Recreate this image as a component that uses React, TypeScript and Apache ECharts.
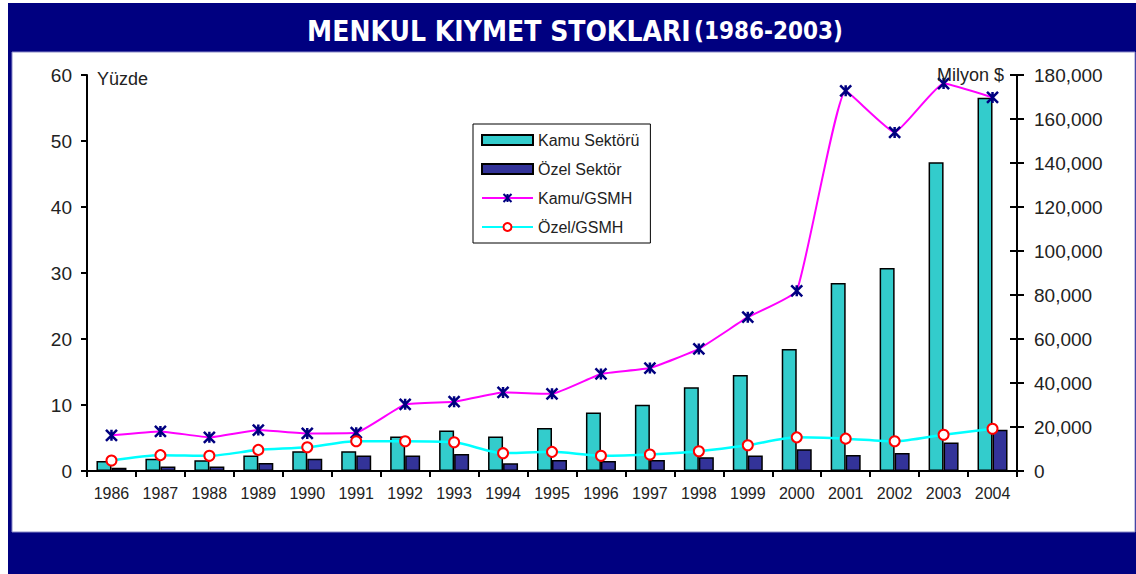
import React, { useEffect, useRef } from "react";
import * as echarts from "echarts";

const years = ["1986","1987","1988","1989","1990","1991","1992","1993","1994","1995","1996","1997","1998","1999","2000","2001","2002","2003","2004"];
// Milyon $
const kamuSektoru = [4500, 5600, 4900, 7000, 9000, 9000, 15700, 18400, 15700, 19600, 26600, 30100, 38100, 43600, 55500, 85500, 92300, 140300, 169700];
const ozelSektor = [1500, 2100, 2000, 3600, 5600, 7000, 7000, 7700, 3500, 5000, 4500, 5000, 6300, 7000, 9900, 7300, 8200, 12900, 18800];
// Yüzde
const kamuGsmh = [5.4, 6.0, 5.1, 6.2, 5.7, 5.8, 10.1, 10.5, 11.9, 11.7, 14.7, 15.6, 18.5, 23.3, 27.3, 57.6, 51.3, 58.7, 56.6];
const ozelGsmh = [1.6, 2.4, 2.3, 3.2, 3.6, 4.5, 4.5, 4.35, 2.7, 2.9, 2.3, 2.5, 3.0, 3.9, 5.1, 4.9, 4.5, 5.5, 6.4];

const seriesNames = ["Kamu Sektörü", "Özel Sektör", "Kamu/GSMH", "Özel/GSMH"];
const titleMain = "MENKUL KIYMET STOKLARI";
const titleYears = "(1986-2003)";
const leftAxisName = "Yüzde";
const rightAxisName = "Milyon $";

const FONT = "'Liberation Sans', Arial, sans-serif";
const NAVY = "#000080";
const TXT = "#222";

export default function App() {
  const ref = useRef<HTMLDivElement>(null);
  useEffect(() => {
    if (!ref.current) return;
    const chart = echarts.init(ref.current, undefined, { renderer: "svg" });
    const fmt = (v: number) => String(v).replace(/\B(?=(\d{3})+(?!\d))/g, ",");
    chart.setOption({
      animation: false,
      backgroundColor: "#fff",
      textStyle: { fontFamily: FONT },
      grid: { left: 87, right: 119, top: 75, bottom: 103, containLabel: false },
      graphic: [
        { type: "rect", z: -10, shape: { x: 8, y: 3, width: 1128, height: 571 }, style: { fill: NAVY } },
        { type: "rect", z: -9, shape: { x: 12, y: 52, width: 1123, height: 480 }, style: { fill: "#fff", stroke: "#8a8ac8", lineWidth: 1 } },
        {
          type: "text", z: 100, x: 575, y: 31,
          style: {
            text: `{a|${titleMain}} {b|${titleYears}}`,
            align: "center", verticalAlign: "middle",
            rich: {
              a: { fontFamily: "'DejaVu Sans Condensed', sans-serif", fontWeight: "bold", fontSize: 28, fill: "#fff" },
              b: { fontFamily: "'DejaVu Sans Condensed', sans-serif", fontWeight: "bold", fontSize: 24, fill: "#fff" },
            },
          },
        },
        { type: "text", z: 100, x: 97, y: 79, style: { text: leftAxisName, fontFamily: FONT, fontSize: 18, fill: TXT, verticalAlign: "middle" } },
        { type: "text", z: 100, x: 1004, y: 75, style: { text: rightAxisName, fontFamily: FONT, fontSize: 18, fill: TXT, align: "right", verticalAlign: "middle" } },
      ],
      legend: {
        orient: "vertical",
        left: 473, top: 124,
        padding: [8, 11, 8, 8],
        itemGap: 13,
        itemWidth: 51, itemHeight: 10,
        borderColor: "#000", borderWidth: 1,
        backgroundColor: "#fff",
        textStyle: { fontFamily: FONT, fontSize: 16, color: TXT },
        data: [
          { name: seriesNames[0], icon: "rect" },
          { name: seriesNames[1], icon: "rect" },
          { name: seriesNames[2] },
          { name: seriesNames[3] },
        ],
      },
      xAxis: {
        type: "category",
        data: years,
        boundaryGap: true,
        axisLine: { lineStyle: { color: "#000", width: 2 } },
        axisTick: { show: true, length: 6, lineStyle: { color: "#000", width: 2 } },
        axisLabel: { color: TXT, fontSize: 16, fontFamily: FONT, margin: 14 },
      },
      yAxis: [
        {
          type: "value", min: 0, max: 60, interval: 10, position: "left",
          axisLine: { show: true, lineStyle: { color: "#000", width: 2 } },
          axisTick: { show: true, length: 6, lineStyle: { color: "#000", width: 2 } },
          axisLabel: { color: TXT, fontSize: 19, fontFamily: FONT, margin: 15 },
          splitLine: { show: false },
        },
        {
          type: "value", min: 0, max: 180000, interval: 20000, position: "right",
          axisLine: { show: true, lineStyle: { color: "#000", width: 2 } },
          axisTick: { show: true, length: 7, lineStyle: { color: "#000", width: 2 } },
          axisLabel: { color: TXT, fontSize: 19, fontFamily: FONT, margin: 17, formatter: fmt },
          splitLine: { show: false },
        },
        {
          type: "value", min: 0, max: 180000, interval: 20000, position: "right",
          axisLine: { show: false },
          axisTick: { show: true, inside: true, length: 7, lineStyle: { color: "#000", width: 2 } },
          axisLabel: { show: false },
          splitLine: { show: false },
        },
      ],
      series: [
        {
          name: seriesNames[0], type: "bar", yAxisIndex: 1, data: kamuSektoru,
          barWidth: 15, barGap: "0%",
          itemStyle: { color: "#33CCCC", borderColor: "#000", borderWidth: 1.5 },
        },
        {
          name: seriesNames[1], type: "bar", yAxisIndex: 1, data: ozelSektor,
          barWidth: 15, barGap: "0%",
          itemStyle: { color: "#333399", borderColor: "#000", borderWidth: 1.5 },
        },
        {
          name: seriesNames[2], type: "line", yAxisIndex: 0, data: kamuGsmh,
          smooth: 0.12,
          symbol: "path://M0,0L10,10M10,0L0,10M5,0L5,10",
          symbolSize: 11,
          lineStyle: { color: "#FF00FF", width: 2 },
          itemStyle: { color: NAVY, borderColor: NAVY, borderWidth: 2.5 },
        },
        {
          name: seriesNames[3], type: "line", yAxisIndex: 0, data: ozelGsmh,
          smooth: 0.25,
          symbol: "emptyCircle",
          symbolSize: 10,
          lineStyle: { color: "#00FFFF", width: 2.5 },
          itemStyle: { color: "#FF0000", borderColor: "#FF0000", borderWidth: 2 },
        },
      ],
    });
    return () => chart.dispose();
  }, []);
  return <div ref={ref} style={{ position: "fixed", left: 0, top: 0, width: 1136, height: 574 }} />;
}
